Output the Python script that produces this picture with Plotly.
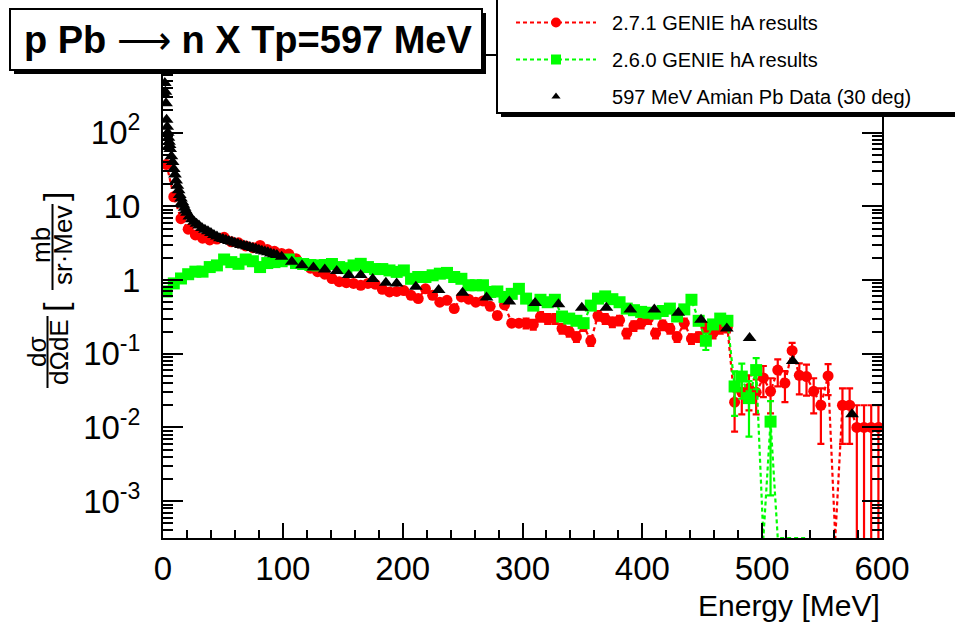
import plotly.graph_objects as go

# ---------------- data ----------------
bin_centres = [3, 9, 15, 21, 27, 33, 39, 45, 51, 57,
               63, 69, 75, 81, 87, 93, 99, 105, 111, 117,
               123, 129, 135, 141, 147, 153, 159, 165, 171, 177,
               183, 189, 195, 201, 207, 213, 219, 225, 231, 237,
               243, 249, 255, 261, 267, 273, 279, 285, 291, 297,
               303, 309, 315, 321, 327, 333, 339, 345, 351, 357,
               363, 369, 375, 381, 387, 393, 399, 405, 411, 417,
               423, 429, 435, 441, 447, 453, 459, 465, 471, 477,
               483, 489, 495, 501, 507, 513, 519, 525, 531, 537,
               543, 549, 555, 561, 567, 573, 579, 585, 591, 597]

genie271_values = [37, 13.5, 6.8, 4.9, 4.1, 3.7, 3.5, 3.6, 3.8, 3.3,
                   3.2, 2.9, 2.75, 2.95, 2.6, 2.45, 2.3, 2.25, 1.95, 1.65,
                   1.45, 1.3, 1.2, 1.05, 0.95, 0.92, 0.9, 0.85, 0.9, 0.88,
                   0.75, 0.69, 0.7, 0.72, 0.62, 0.56, 0.76, 0.62, 0.5, 0.53,
                   0.41, 0.59, 0.55, 0.5, 0.52, 0.44, 0.33, 0.46, 0.26, 0.26,
                   0.26, 0.25, 0.32, 0.3, 0.3, 0.22, 0.2, 0.17, 0.24, 0.15,
                   0.33, 0.3, 0.27, 0.285, 0.19, 0.24, 0.26, 0.3, 0.19, 0.245,
                   0.22, 0.17, 0.26, 0.16, 0.17, 0.23, 0.19, 0.22, 0.23, 0.022,
                   0.03, 0.034, 0.03, 0.047, 0.031, 0.06, 0.04, 0.11, 0.051, 0.049,
                   0.031, 0.02, 0.05, 0, 0.02, 0.02, 0.01, 0.01, 0.01, 0.01]

genie271_relerr = [0.03, 0.03, 0.03, 0.03, 0.03, 0.03, 0.03, 0.03, 0.03, 0.03,
                   0.03, 0.03, 0.03, 0.03, 0.03, 0.03, 0.03, 0.08, 0.08, 0.08,
                   0.08, 0.08, 0.08, 0.08, 0.08, 0.08, 0.08, 0.08, 0.08, 0.08,
                   0.08, 0.08, 0.08, 0.08, 0.08, 0.08, 0.08, 0.08, 0.08, 0.08,
                   0.08, 0.08, 0.08, 0.08, 0.08, 0.08, 0.08, 0.08, 0.08, 0.08,
                   0.15, 0.15, 0.15, 0.15, 0.15, 0.15, 0.15, 0.15, 0.15, 0.15,
                   0.15, 0.15, 0.15, 0.15, 0.15, 0.15, 0.15, 0.15, 0.15, 0.15,
                   0.15, 0.15, 0.15, 0.15, 0.15, 0.15, 0.15, 0.15, 0.15, 0.6,
                   0.5, 0.5, 0.5, 0.45, 0.5, 0.4, 0.45, 0.28, 0.45, 0.45,
                   0.5, 0.7, 0.45, 0, 0.7, 0.7, 1.0, 1.0, 1.0, 1.0]

genie260_centres = bin_centres[:90]
genie260_values = [0.7, 0.9, 1.05, 1.2, 1.3, 1.3, 1.5, 1.58, 1.9, 1.75,
                   1.66, 1.9, 1.8, 1.5, 1.7, 1.75, 1.8, 1.9, 1.7, 1.65,
                   1.6, 1.58, 1.6, 1.65, 1.5, 1.45, 1.58, 1.66, 1.5, 1.41,
                   1.41, 1.35, 1.29, 1.35, 1.04, 1.1, 1.1, 1.16, 1.22, 1.25,
                   1.1, 1.04, 0.85, 0.85, 0.85, 0.69, 0.7, 0.59, 0.65, 0.76,
                   0.56, 0.45, 0.54, 0.5, 0.54, 0.32, 0.3, 0.28, 0.26, 0.45,
                   0.56, 0.6, 0.55, 0.5, 0.41, 0.39, 0.37, 0.36, 0.35, 0.38,
                   0.41, 0.32, 0.4, 0.54, 0.28, 0.15, 0.25, 0.3, 0.28, 0.036,
                   0.049, 0.025, 0.06, 0, 0.012, 0, 0, 0, 0, 0]

genie260_relerr = [0.04, 0.04, 0.04, 0.04, 0.04, 0.04, 0.04, 0.04, 0.04, 0.04,
                   0.04, 0.04, 0.04, 0.04, 0.04, 0.04, 0.04, 0.04, 0.04, 0.04,
                   0.04, 0.04, 0.04, 0.04, 0.04, 0.04, 0.04, 0.04, 0.04, 0.04,
                   0.04, 0.04, 0.04, 0.04, 0.04, 0.04, 0.04, 0.04, 0.04, 0.04,
                   0.04, 0.04, 0.04, 0.04, 0.04, 0.04, 0.04, 0.04, 0.04, 0.04,
                   0.12, 0.12, 0.12, 0.12, 0.12, 0.12, 0.12, 0.12, 0.12, 0.12,
                   0.12, 0.12, 0.12, 0.12, 0.12, 0.12, 0.12, 0.12, 0.12, 0.12,
                   0.12, 0.12, 0.12, 0.12, 0.12, 0.25, 0.12, 0.12, 0.12, 0.6,
                   0.5, 0.7, 0.45, 0, 0.9, 0, 0, 0, 0, 0]

amian_energy = [1.0, 1.5, 2.0, 2.5, 3.0, 3.5, 4.0, 4.5, 5.0, 5.5,
                6.0, 7.0, 8.0, 9.0, 10.0, 11.0, 12.0, 13.0, 14.0, 15.0,
                16.0, 17.0, 18.0, 19.0, 20.0, 22.0, 24.0, 26.0, 28.0, 30.0,
                32.5, 35.0, 37.5, 40.0, 42.5, 45.0, 47.5, 50.0, 52.5, 55.0,
                57.5, 60.0, 62.5, 65.0, 67.5, 70.0, 72.5, 75.0, 77.5, 80.0,
                82.5, 85.0, 87.5, 90.0, 92.5, 95.0, 99.0, 107.5, 116.0, 125.5,
                135.0, 145.0, 155.0, 165.0, 175.0, 186.0, 195.0, 211.0, 230.0, 250.0,
                270.0, 289.0, 310.5, 330.0, 349.5, 370.0, 390.0, 410.0, 430.0, 449.0,
                470.5, 489.5, 525.5, 575.0]
amian_values = [330, 470, 360, 250, 150, 120, 100, 85, 75, 68,
                60, 48, 40, 32, 27, 22.5, 19, 16.5, 14.3, 12.8,
                11.5, 10.5, 9.6, 8.8, 8.2, 7.3, 6.7, 6.2, 5.8, 5.5,
                5.1, 4.8, 4.6, 4.35, 4.1, 3.9, 3.7, 3.6, 3.5, 3.4,
                3.3, 3.2, 3.1, 3.0, 2.95, 2.88, 2.8, 2.72, 2.65, 2.58,
                2.5, 2.44, 2.38, 2.3, 2.24, 2.18, 2.07, 1.77, 1.59, 1.48,
                1.39, 1.33, 1.17, 1.17, 1.03, 0.92, 0.90, 0.81, 0.73, 0.67,
                0.58, 0.51, 0.49, 0.47, 0.42, 0.42, 0.40, 0.40, 0.36, 0.29,
                0.22, 0.164, 0.080, 0.0151]

series_names = ["2.7.1 GENIE hA results", "2.6.0 GENIE hA results",
                "597 MeV Amian Pb Data (30 deg)"]
title_left, title_arrow, title_right = "p Pb", "\u27f6", "n X Tp=597 MeV"
x_title = "Energy [MeV]"
y_tick_vals = [1e-3, 1e-2, 1e-1, 1, 10, 100]
y_tick_text = ["10<sup>-3</sup>", "10<sup>-2</sup>", "10<sup>-1</sup>", "1", "10", "10<sup>2</sup>"]

# ---------------- layout geometry (pixels) ----------------
W, H = 955, 622
L, R, T, B = 163, 882, 56, 538
LOG_MIN, LOG_MAX = -3.5, 3.04
FLOOR = 10 ** LOG_MIN
FONT = "Liberation Sans, Arial, Helvetica, sans-serif"


def px(x):
    return (x - L) / (R - L)


def py(y):
    return (B - y) / (B - T)


def line_y(vals):
    return [v if v > 0 else FLOOR for v in vals]


def marker_y(vals):
    return [v if v > 0 else None for v in vals]


def errs(vals, rel):
    return [v * r for v, r in zip(vals, rel)]


RED, GREEN, BLACK = "#ff0000", "#00ff00", "#000000"
DASH = "4px,3px"
GAP = "\u00a0\u00a0"

fig = go.Figure()

# GENIE 2.7.1
fig.add_trace(go.Scatter(x=bin_centres, y=line_y(genie271_values), mode="lines",
                         line=dict(color=RED, width=2.2, dash=DASH),
                         showlegend=False, hoverinfo="skip"))
fig.add_trace(go.Scatter(x=bin_centres, y=marker_y(genie271_values), mode="markers",
                         marker=dict(symbol="circle", size=11, color=RED),
                         error_y=dict(type="data", array=errs(genie271_values, genie271_relerr),
                                      color=RED, thickness=2.2, width=3.5),
                         showlegend=False))
# GENIE 2.6.0
fig.add_trace(go.Scatter(x=genie260_centres, y=line_y(genie260_values), mode="lines",
                         line=dict(color=GREEN, width=2.2, dash=DASH),
                         showlegend=False, hoverinfo="skip"))
fig.add_trace(go.Scatter(x=genie260_centres, y=marker_y(genie260_values), mode="markers",
                         marker=dict(symbol="square", size=12, color=GREEN),
                         error_y=dict(type="data", array=errs(genie260_values, genie260_relerr),
                                      color=GREEN, thickness=2.2, width=3.5),
                         showlegend=False))
# Amian data
fig.add_trace(go.Scatter(x=amian_energy, y=amian_values, mode="markers",
                         marker=dict(symbol="triangle-up", size=12, color=BLACK),
                         showlegend=False))

# legend entries
fig.add_trace(go.Scatter(x=[None], y=[None], mode="lines+markers", name=GAP + series_names[0],
                         line=dict(color=RED, width=2.2, dash=DASH),
                         marker=dict(symbol="circle", size=10, color=RED), legendgroup="a"))
fig.add_trace(go.Scatter(x=[None], y=[None], mode="lines+markers", name=GAP + series_names[1],
                         line=dict(color=GREEN, width=2.2, dash=DASH),
                         marker=dict(symbol="square", size=10, color=GREEN), legendgroup="b"))
fig.add_trace(go.Scatter(x=[None], y=[None], mode="markers", name=GAP + series_names[2],
                         marker=dict(symbol="triangle-up", size=8, color=BLACK), legendgroup="c"))

minor_y = [k * 10 ** d for d in range(-4, 4) for k in range(2, 10)]

fig.update_xaxes(range=[0, 600], showline=True, linecolor="black", linewidth=2, mirror="allticks",
                 ticks="inside", ticklen=15, tickwidth=2, tickcolor="black",
                 tickvals=[0, 100, 200, 300, 400, 500, 600],
                 ticktext=["0", "100", "200", "300", "400", "500", "600"],
                 minor=dict(dtick=20, ticks="inside", ticklen=8, tickwidth=2, tickcolor="black"),
                 showgrid=False, zeroline=False, automargin=False,
                 tickfont=dict(family=FONT, size=33, color="black"))
fig.update_yaxes(type="log", range=[LOG_MIN, LOG_MAX], showline=True, linecolor="black", linewidth=2,
                 mirror="allticks", ticks="inside", ticklen=20, tickwidth=2, tickcolor="black",
                 tickvals=y_tick_vals, ticktext=y_tick_text,
                 minor=dict(tickvals=minor_y, ticks="inside", ticklen=10, tickwidth=2, tickcolor="black"),
                 showgrid=False, zeroline=False, ticklabelstandoff=14, automargin=False,
                 tickfont=dict(family=FONT, size=33, color="black"))

shapes = [
    # title box with shadow
    dict(type="rect", xref="paper", yref="paper", x0=px(14), x1=px(486), y0=py(74), y1=py(13),
         fillcolor="black", line=dict(width=0), layer="above"),
    dict(type="rect", xref="paper", yref="paper", x0=px(10), x1=px(482), y0=py(70), y1=py(9),
         fillcolor="white", line=dict(color="black", width=2), layer="above"),
    # legend box with shadow
    dict(type="rect", xref="paper", yref="paper", x0=px(501), x1=px(965), y0=py(117), y1=py(-1),
         fillcolor="black", line=dict(width=0), layer="above"),
    dict(type="rect", xref="paper", yref="paper", x0=px(497), x1=px(960), y0=py(113), y1=py(-6),
         fillcolor="white", line=dict(color="black", width=2), layer="above"),
    # fraction bars of the y title
    dict(type="line", xref="paper", yref="paper", x0=px(47.5), x1=px(47.5), y0=py(388), y1=py(316),
         line=dict(color="black", width=2)),
    dict(type="line", xref="paper", yref="paper", x0=px(52.5), x1=px(52.5), y0=py(290), y1=py(204),
         line=dict(color="black", width=2)),
]

ann_font = dict(family=FONT, size=26, color="black")
title_html = ("<b>" + title_left + "</b> " + title_arrow + " <b>" + title_right + "</b>")
annotations = [
    dict(text=title_html, xref="paper", yref="paper", x=px(248), y=py(40),
         xanchor="center", yanchor="middle", showarrow=False,
         font=dict(family=FONT, size=38, color="black")),
    dict(text=x_title, xref="paper", yref="paper", x=px(882), y=py(605), xanchor="right",
         yanchor="middle", showarrow=False, font=dict(family=FONT, size=30, color="black")),
    dict(text="d\u03c3", xref="paper", yref="paper", x=px(37), y=py(352), textangle=-90,
         showarrow=False, font=ann_font, xanchor="center", yanchor="middle"),
    dict(text="d\u03a9dE", xref="paper", yref="paper", x=px(59), y=py(352), textangle=-90,
         showarrow=False, font=ann_font, xanchor="center", yanchor="middle"),
    dict(text="[", xref="paper", yref="paper", x=px(55), y=py(307), textangle=-90,
         showarrow=False, font=dict(family=FONT, size=34, color="black"),
         xanchor="center", yanchor="middle"),
    dict(text="mb", xref="paper", yref="paper", x=px(41), y=py(245), textangle=-90,
         showarrow=False, font=ann_font, xanchor="center", yanchor="middle"),
    dict(text="sr\u00b7Mev", xref="paper", yref="paper", x=px(63), y=py(246), textangle=-90,
         showarrow=False, font=ann_font, xanchor="center", yanchor="middle"),
    dict(text="]", xref="paper", yref="paper", x=px(55), y=py(197), textangle=-90,
         showarrow=False, font=dict(family=FONT, size=34, color="black"),
         xanchor="center", yanchor="middle"),
]

fig.update_layout(
    width=W, height=H,
    margin=dict(l=L, r=W - R, t=T, b=H - B, pad=0, autoexpand=False),
    paper_bgcolor="white", plot_bgcolor="white",
    shapes=shapes, annotations=annotations,
    showlegend=True,
    legend=dict(x=px(511), y=py(3), xanchor="left", yanchor="top",
                bgcolor="rgba(0,0,0,0)", borderwidth=0, itemwidth=80,
                tracegroupgap=8, traceorder="grouped",
                font=dict(family=FONT, size=20, color="black")),
    font=dict(family=FONT, color="black"),
)

fig.write_html("out.html", config={"displayModeBar": False},
               post_script="document.body.style.margin='0px';")
